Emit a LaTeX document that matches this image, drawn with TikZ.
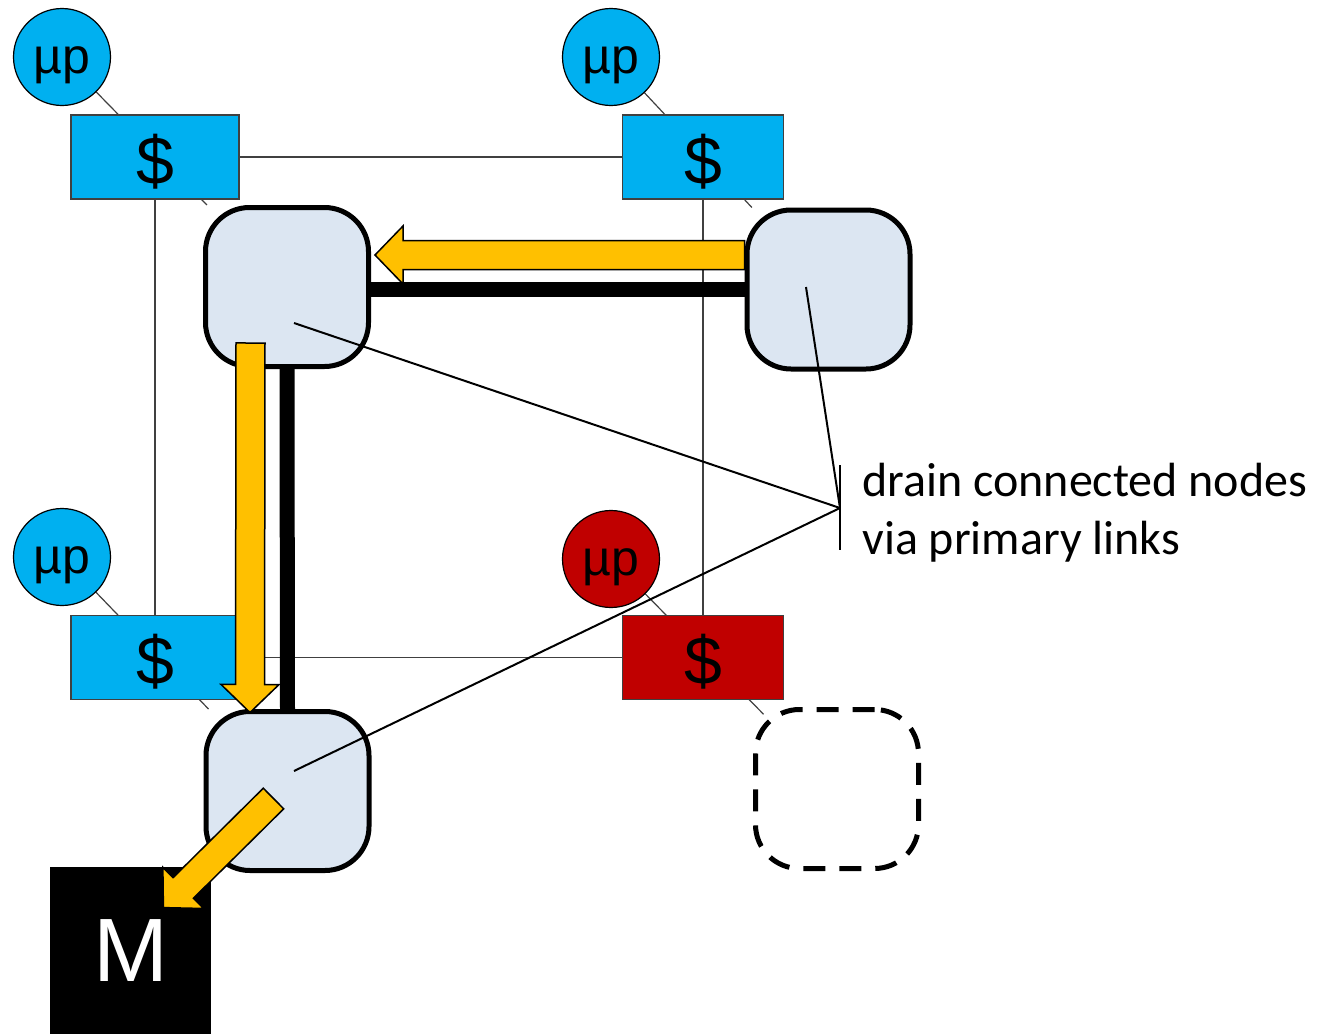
\documentclass[tikz,border=0pt]{standalone}
\usepackage{fontspec}
\setmainfont{Liberation Sans}
\newfontfamily\calloutfont{Carlito}
\usetikzlibrary{calc}
\pgfdeclarelayer{back}
\pgfsetlayers{back,main}

\definecolor{cpublue}{HTML}{00B0F0}
\definecolor{cpured}{HTML}{C00000}
\definecolor{flowgold}{HTML}{FFC000}
\definecolor{routerfill}{HTML}{DCE6F2}

\tikzset{
  cpu/.style={circle, draw=black, line width=0.6pt, fill=cpublue, minimum size=48.5pt,
    inner sep=0pt, text height=16pt, text depth=0pt, font=\fontsize{25}{25}\selectfont},
  cache/.style={rectangle, draw=black!75, line width=0.6pt, fill=cpublue,
    minimum height=42pt, inner sep=0pt, text height=27pt, text depth=0pt,
    font=\fontsize{34}{34}\selectfont},
  router/.style={rectangle, rounded corners=22pt, draw=black, line width=2.5pt,
    fill=routerfill, minimum width=81.5pt, minimum height=79.5pt, inner sep=0pt},
  ghost/.style={router, fill=none, dash pattern=on 11pt off 7pt},
  wire/.style={draw=black!75, line width=0.6pt},
  link/.style={draw=black, line width=7.5pt},
  flowarrow/.style={draw=black, line width=0.75pt, fill=flowgold, line join=miter},
  pointer/.style={draw=black, line width=1pt},
  memory/.style={rectangle, fill=black, text=white, minimum width=80.5pt,
    minimum height=83.5pt, inner sep=0pt, font=\fontsize{45}{45}\selectfont},
}

% block arrow from tail #1 to tip #2
\newcommand{\blockarrow}[2]{%
  \coordinate (ba-base) at ($(#2)!14pt!(#1)$);
  \draw[flowarrow]
    ($(#1)!7.25pt!90:(#2)$) -- ($(ba-base)!7.25pt!90:(#2)$)
    -- ($(ba-base)!14.5pt!90:(#2)$) -- (#2)
    -- ($(ba-base)!14.5pt!-90:(#2)$) -- ($(ba-base)!7.25pt!-90:(#2)$)
    -- ($(#1)!7.25pt!-90:(#2)$) -- cycle;}

\begin{document}
\begin{tikzpicture}[x=0.5pt,y=-0.5pt]
\useasboundingbox (0,0) rectangle (1324,1034);

% processors
\node[cpu] (cTL) at (62,57) {µp};
\node[cpu] (cTR) at (611,57) {µp};
\node[cpu] (cBL) at (62,557) {µp};
\node[cpu, fill=cpured] (cBR) at (611,559) {µp};

% caches
\node[cache, minimum width=84pt] (kTL) at (155,157) {\$};
\node[cache, minimum width=80.5pt] (kTR) at (703,157) {\$};
\node[cache, minimum width=84pt] (kBL) at (155,657.5) {\$};
\node[cache, minimum width=80.5pt, fill=cpured] (kBR) at (703,657.5) {\$};

% routers
\node[router] (rTL) at (287,287) {};
\node[router] (rTR) at (828.5,289.5) {};
\node[router] (rBL) at (287.5,791) {};
\node[ghost] (rX) at (837,789) {};

% thin cube edges behind everything
\begin{pgfonlayer}{back}
  \draw[wire] (kTL) -- (kTR);
  \draw[wire] (kTL) -- (kBL);
  \draw[wire] (kTR) -- (kBR);
  \draw[wire] (kBL) -- (kBR);
  \draw[wire] (cTL) -- (rTL);
  \draw[wire] (cTR) -- (rTR);
  \draw[wire] (cBL) -- (rBL);
  \draw[wire] (cBR) -- ($(cBR)!0.675!(rX.center)$);
\end{pgfonlayer}

% primary links
\draw[link] (rTR.west) -- (rTR.west -| rTL.east);
\draw[link] (rTL.south) -- (rBL.north);

% drain flow
\coordinate (t1) at ($(rTR.west)+(0,-34.5)$);
\coordinate (h1) at ($(rTL.east)+(4,-32)$);
\blockarrow{t1}{h1}
\coordinate (t2) at ($(rTL.center)+(-36.5,56)$);
\coordinate (h2) at ($(rBL.north)+(-37.5,3.5)$);
\blockarrow{t2}{h2}

% callout
\coordinate (junc) at (840,508);
\draw[pointer] ($(rTL.center)+(7,36)$) -- (junc);
\draw[pointer] ($(rTR.center)+(-22.5,-2.5)$) -- (junc);
\draw[pointer] ($(rBL.center)+(6.5,-20)$) -- (junc);
\draw[pointer] ($(junc)+(0,-43)$) -- ($(junc)+(0,42)$);
\node[font=\calloutfont\fontsize{24}{29}\selectfont, align=left, anchor=west,
  inner sep=0pt] (note) at ($(junc)+(22,5)$) {drain connected nodes\\via primary links};

% memory
\node[memory] (mem) at (130.5,950.5) {M};
\coordinate (t3) at ($(rBL.center)+(-14,7.5)$);
\coordinate (h3) at ($(mem.north east)+(-48,41)$);
\blockarrow{t3}{h3}
\end{tikzpicture}
\end{document}
